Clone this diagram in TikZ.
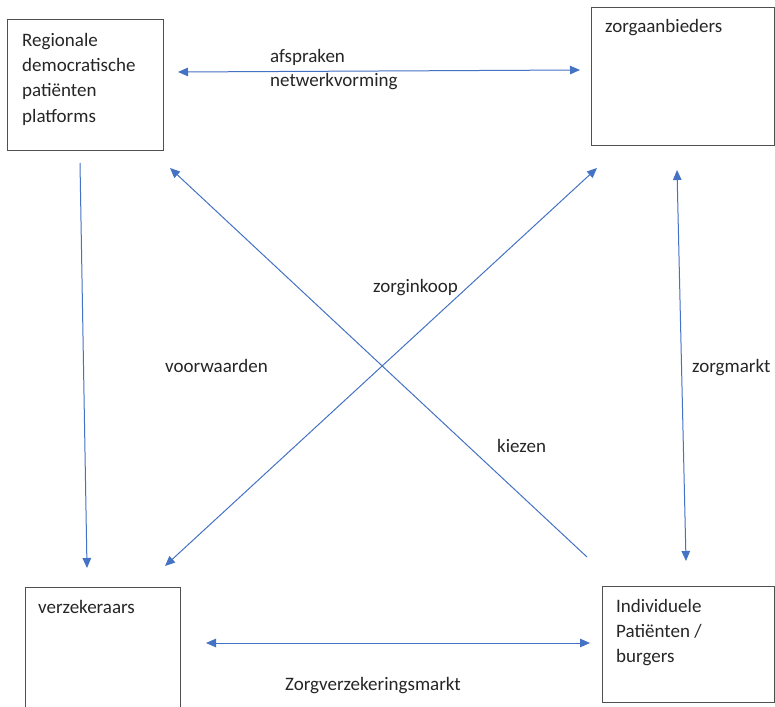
\documentclass[tikz,border=0pt]{standalone}
\usepackage{fontspec}
\setmainfont{Carlito}
\usetikzlibrary{arrows.meta}
\definecolor{arrowblue}{HTML}{4472C4}
\definecolor{boxgrey}{HTML}{505050}
\begin{document}
\begin{tikzpicture}[x=1pt,y=-1pt,
  box/.style={draw=boxgrey, line width=1.2pt, inner sep=0pt, anchor=north west},
  lbl/.style={font=\fontsize{19}{25}\selectfont, text=black!85, inner sep=0pt, anchor=base west},
  conn/.style={draw=arrowblue, line width=1pt, -{Triangle[length=10pt,width=8.5pt]}},
  conntwo/.style={draw=arrowblue, line width=1pt, {Triangle[length=10pt,width=8.5pt]}-{Triangle[length=10pt,width=8.5pt]}}]
\useasboundingbox (0,0) rectangle (775,706);
\fill[white] (0,0) rectangle (775,706);
\begin{scope}
\clip (0,0) rectangle (775,706);
% boxes
\node[box, minimum width=156pt, minimum height=131pt] (plat) at (7,19) {};
\node[box, minimum width=182.5pt, minimum height=138pt] (zorg) at (591,7) {};
\node[box, minimum width=155pt, minimum height=130pt] (verz) at (25,587) {};
\node[box, minimum width=171.5pt, minimum height=116pt] (ind) at (602,586) {};
\end{scope}
% box texts
\node[lbl] (t1a) at (22,47) {Regionale};
\node[lbl] (t1b) at (22,72) {democratische};
\node[lbl] (t1c) at (22,97) {patiënten};
\node[lbl] (t1d) at (22,122) {platforms};
\node[lbl] (t2) at (605,33) {zorgaanbieders};
\node[lbl] (t3) at (38,613) {verzekeraars};
\node[lbl] (t4a) at (616,612) {Individuele};
\node[lbl] (t4b) at (616,637) {Patiënten /};
\node[lbl] (t4c) at (616,662) {burgers};
% connector end points
\coordinate (h1a) at (178,72);
\coordinate (h1b) at (580,70);
\coordinate (h2a) at (206,643);
\coordinate (h2b) at (590,643);
\coordinate (v1a) at (80,163);
\coordinate (v1b) at (87,568);
\coordinate (v2a) at (677,170);
\coordinate (v2b) at (686,561);
\coordinate (d1a) at (597,168);
\coordinate (d1b) at (165,566);
\coordinate (d2a) at (587,557);
\coordinate (d2b) at (170,168);
% connectors
\draw[conntwo] (h1a) -- (h1b);
\draw[conntwo] (h2a) -- (h2b);
\draw[conn] (v1a) -- (v1b);
\draw[conntwo] (v2a) -- (v2b);
\draw[conntwo] (d1a) -- (d1b);
\draw[conn] (d2a) -- (d2b);
% connector labels
\node[lbl] (l1a) at (270,63) {afspraken};
\node[lbl] (l1b) at (270,87) {netwerkvorming};
\node[lbl] (l2) at (285,690) {Zorgverzekeringsmarkt};
\node[lbl] (l3) at (165,372) {voorwaarden};
\node[lbl] (l4) at (692,372) {zorgmarkt};
\node[lbl] (l5) at (373,292) {zorginkoop};
\node[lbl] (l6) at (497,452) {kiezen};
\end{tikzpicture}
\end{document}
